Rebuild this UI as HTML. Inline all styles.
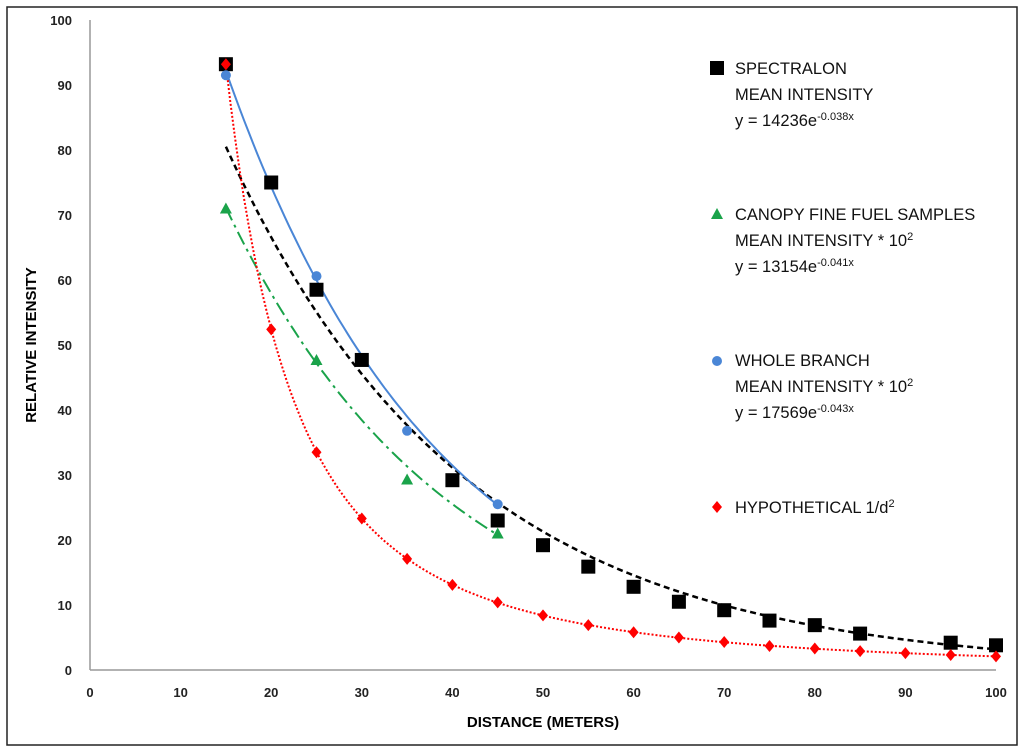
<!DOCTYPE html>
<html><head><meta charset="utf-8"><style>
body{margin:0;background:#fff;}
svg{display:block;font-family:"Liberation Sans",sans-serif;}
</style></head><body>
<svg id="c" width="1024" height="750">
<rect x="7" y="7" width="1010" height="738" fill="#fff" stroke="#222" stroke-width="1.5"/>
<g id="g"></g>
</svg>
<script>
const xTicks=[0,10,20,30,40,50,60,70,80,90,100];
const yTicks=[0,10,20,30,40,50,60,70,80,90,100];
const specX=[15,20,25,30,40,45,50,55,60,65,70,75,80,85,95,100];
const specY=[93.2,75,58.5,47.7,29.2,23,19.2,15.9,12.8,10.5,9.2,7.6,6.9,5.6,4.2,3.8];
const canX=[15,25,35,45];
const canY=[71,47.7,29.3,21];
const brX=[15,25,35,45];
const brY=[91.5,60.6,36.8,25.5];
const hypX=[15,20,25,30,35,40,45,50,55,60,65,70,75,80,85,90,95,100];
const hypY=[93.2,52.4,33.5,23.3,17.1,13.1,10.4,8.4,6.9,5.8,5,4.3,3.7,3.3,2.9,2.6,2.3,2.1];
const specFit=[142.36,0.038],canFit=[131.54,0.041],brFit=[175.69,0.043],hypK=20970;
const X=v=>90+v*9.06, Y=v=>670-v*6.5;
const NS="http://www.w3.org/2000/svg",g=document.getElementById('g');
function el(t,a,txt){const e=document.createElementNS(NS,t);for(const k in a)e.setAttribute(k,a[k]);if(txt!==undefined)e.textContent=txt;g.appendChild(e);return e;}
let e;
e=el('line',{x1:X(0),y1:Y(0),x2:X(100),y2:Y(0),stroke:'#999','stroke-width':1.5});


e=el('line',{x1:X(0),y1:Y(0),x2:X(0),y2:Y(100),stroke:'#999','stroke-width':1.5});


xTicks.forEach(t=>{e=el('text',{x:X(t),y:697,'text-anchor':'middle','font-size':13,'font-weight':'bold',fill:'#222'},t);

});
yTicks.forEach(t=>{e=el('text',{x:72,y:Y(t)+5,'text-anchor':'end','font-size':13,'font-weight':'bold',fill:'#222'},t);

});
e=el('text',{x:543,y:727,'text-anchor':'middle','font-size':15,'font-weight':'bold'},'DISTANCE (METERS)');


e=el('text',{x:36,y:345,'text-anchor':'middle','font-size':15,'font-weight':'bold',transform:'rotate(-90 36 345)'},'RELATIVE INTENSITY');


function curve(f,x0,x1,st,name){let d='';for(let x=x0;x<=x1+1e-9;x+=0.5){d+=(d?'L':'M')+X(x).toFixed(1)+','+Y(f(x)).toFixed(1);}
const p=el('path',Object.assign({d:d,fill:'none'},st));

}
curve(x=>specFit[0]*Math.exp(-specFit[1]*x),15,100,{stroke:'#000','stroke-width':2.5,'stroke-dasharray':'6 4'},'spectralon-trendline');
curve(x=>canFit[0]*Math.exp(-canFit[1]*x),15,45,{stroke:'#1aa34a','stroke-width':2,'stroke-dasharray':'14 5 3 5'},'canopy-trendline');
curve(x=>brFit[0]*Math.exp(-brFit[1]*x),15,45,{stroke:'#4a86d6','stroke-width':2},'branch-trendline');
curve(x=>hypK/(x*x),15,100,{stroke:'#f00','stroke-width':2,'stroke-dasharray':'2 2'},'hypothetical-trendline');
specX.forEach((x,i)=>{e=el('rect',{x:X(x)-7,y:Y(specY[i])-7,width:14,height:14,fill:'#000'});

});
canX.forEach((x,i)=>{const cx=X(x),cy=Y(canY[i]);e=el('path',{d:`M${cx},${cy-6}L${cx+6},${cy+5}L${cx-6},${cy+5}Z`,fill:'#1aa34a'});

});
brX.forEach((x,i)=>{e=el('circle',{cx:X(x),cy:Y(brY[i]),r:5,fill:'#4a86d6'});

});
hypX.forEach((x,i)=>{const cx=X(x),cy=Y(hypY[i]);e=el('path',{d:`M${cx},${cy-6}L${cx+5},${cy}L${cx},${cy+6}L${cx-5},${cy}Z`,fill:'#f00'});

});
function lt(x,y,t,n){const e=el('text',{x:x,y:y,'font-size':16.5,fill:'#111'});e.innerHTML=t;

}
e=el('rect',{x:710,y:61,width:14,height:14,fill:'#000'});


lt(735,74,'SPECTRALON','legend-spectralon');lt(735,100,'MEAN INTENSITY','legend-spectralon');
lt(735,126,'y = 14236e<tspan dy="-6" font-size="11">-0.038x</tspan>','legend-spectralon-equation');
e=el('path',{d:'M717,208L723,219L711,219Z',fill:'#1aa34a'});


lt(735,220,'CANOPY FINE FUEL SAMPLES','legend-canopy');
lt(735,246,'MEAN INTENSITY * 10<tspan dy="-6" font-size="11">2</tspan>','legend-canopy');
lt(735,272,'y = 13154e<tspan dy="-6" font-size="11">-0.041x</tspan>','legend-canopy-equation');
e=el('circle',{cx:717,cy:361,r:5,fill:'#4a86d6'});


lt(735,366,'WHOLE BRANCH','legend-branch');
lt(735,392,'MEAN INTENSITY * 10<tspan dy="-6" font-size="11">2</tspan>','legend-branch');
lt(735,418,'y = 17569e<tspan dy="-6" font-size="11">-0.043x</tspan>','legend-branch-equation');
e=el('path',{d:'M717,501L722,507L717,513L712,507Z',fill:'#f00'});


lt(735,513,'HYPOTHETICAL 1/d<tspan dy="-6" font-size="11">2</tspan>','legend-hypothetical');
</script>
</body></html>
